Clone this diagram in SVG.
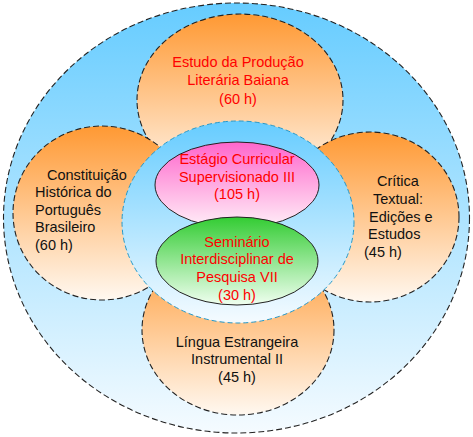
<svg xmlns="http://www.w3.org/2000/svg" width="473" height="437" viewBox="0 0 473 437">
<defs>
<linearGradient id="gBlue" x1="0" y1="0" x2="0" y2="1"><stop offset="0" stop-color="#66CCFF"/><stop offset="1" stop-color="#F5FBFF"/></linearGradient>
<linearGradient id="gOrange" x1="0" y1="0" x2="0" y2="1"><stop offset="0" stop-color="#FF9933"/><stop offset="1" stop-color="#FFF8F0"/></linearGradient>
<linearGradient id="gPink" x1="0" y1="0" x2="0" y2="1"><stop offset="0" stop-color="#FF66CC"/><stop offset="1" stop-color="#FFF0F8"/></linearGradient>
<linearGradient id="gGreen" x1="0" y1="0" x2="0" y2="1"><stop offset="0" stop-color="#33CC33"/><stop offset="1" stop-color="#F0FFF0"/></linearGradient>
</defs>
<style>
.dash{stroke:#222;stroke-width:1.1;stroke-dasharray:6 3}
.org{fill:url(#gOrange)}
.t{font-family:"Liberation Sans",Arial,sans-serif;font-size:14.5px}
.red{fill:#FF0000}
.blk{fill:#111}
.c{text-anchor:middle}
</style>
<g id="outer"><ellipse cx="236.5" cy="218" rx="233" ry="215" fill="url(#gBlue)" class="dash"/></g>
<g id="top"><ellipse cx="240" cy="100" rx="103" ry="86" class="org dash"/>
<text class="t red c" x="238" y="67">Estudo da Produção</text>
<text class="t red c" x="238" y="85">Literária Baiana</text>
<text class="t red c" x="238" y="104">(60 h)</text></g>
<g id="left"><ellipse cx="102" cy="213" rx="89" ry="87" class="org dash"/>
<text class="t blk" x="47" y="180">Constituição</text>
<text class="t blk" x="35" y="197">Histórica do</text>
<text class="t blk" x="35" y="215">Português</text>
<text class="t blk" x="35" y="232">Brasileiro</text>
<text class="t blk" x="35" y="250">(60 h)</text></g>
<g id="right"><ellipse cx="370" cy="217" rx="89" ry="85" class="org dash"/>
<text class="t blk" x="377" y="186">Crítica</text>
<text class="t blk" x="373" y="204">Textual:</text>
<text class="t blk" x="369" y="222">Edições e</text>
<text class="t blk" x="368" y="239">Estudos</text>
<text class="t blk" x="364" y="257">(45 h)</text></g>
<g id="bottom"><ellipse cx="238" cy="330" rx="96" ry="85" class="org dash"/>
<text class="t blk c" x="237" y="347">Língua Estrangeira</text>
<text class="t blk c" x="237" y="364">Instrumental II</text>
<text class="t blk c" x="237" y="382">(45 h)</text></g>
<g id="center"><ellipse cx="238" cy="222" rx="116" ry="101" fill="url(#gBlue)" stroke="#2299CC" stroke-width="1" stroke-dasharray="5 3"/></g>
<g id="estagio"><ellipse cx="237" cy="185" rx="82" ry="43" fill="url(#gPink)" stroke="#222" stroke-width="1"/>
<text class="t red c" x="237" y="164">Estágio Curricular</text>
<text class="t red c" x="237" y="182">Supervisionado III</text>
<text class="t red c" x="237" y="199">(105 h)</text></g>
<g id="seminario"><ellipse cx="237" cy="261" rx="81" ry="44" fill="url(#gGreen)" stroke="#222" stroke-width="1"/>
<text class="t red c" x="237" y="247">Seminário</text>
<text class="t red c" x="237" y="264">Interdisciplinar de</text>
<text class="t red c" x="237" y="282">Pesquisa VII</text>
<text class="t red c" x="237" y="300">(30 h)</text></g>
<g id="connectors"></g>
</svg>
